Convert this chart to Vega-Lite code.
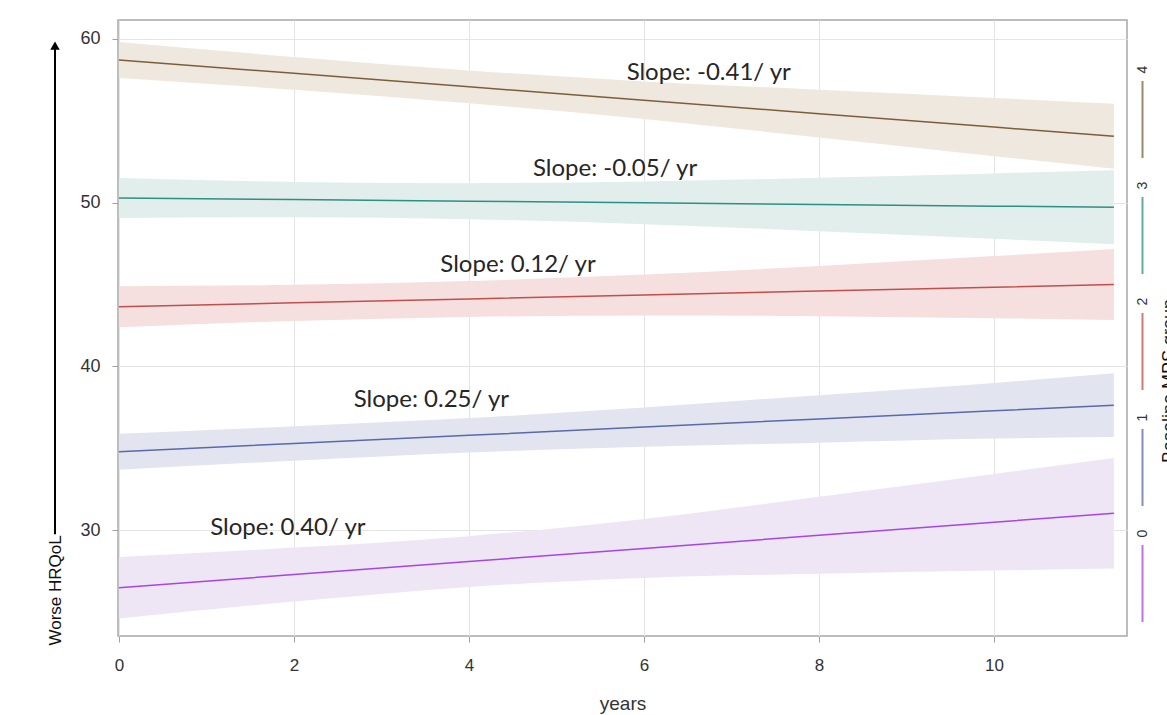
{
  "$schema": "https://vega.github.io/schema/vega-lite/v6.json",
  "width": 1009,
  "height": 616,
  "autosize": {"type": "none"},
  "padding": {"left": 118, "top": 20, "right": 40, "bottom": 79},
  "background": "white",
  "config": {
    "view": {"stroke": "#a8a8a8", "strokeWidth": 1.5},
    "axis": {
      "gridColor": "#e4e4e4",
      "gridWidth": 1,
      "domain": false,
      "tickColor": "#a0a0a0",
      "tickSize": 6,
      "labelFont": "Liberation Sans",
      "labelFontSize": 16,
      "labelColor": "#333333",
      "titleFont": "Liberation Sans",
      "titleFontSize": 18,
      "titleFontWeight": "normal",
      "titleColor": "#333333"
    }
  },
  "datasets": {
    "fits": [
      {"group": "0", "years": 0, "fit": 26.48, "lower": 24.60, "upper": 28.36},
      {"group": "0", "years": 2, "fit": 27.28, "lower": 25.63, "upper": 28.93},
      {"group": "0", "years": 4, "fit": 28.08, "lower": 26.53, "upper": 29.63},
      {"group": "0", "years": 6, "fit": 28.88, "lower": 27.08, "upper": 30.68},
      {"group": "0", "years": 8, "fit": 29.68, "lower": 27.33, "upper": 32.03},
      {"group": "0", "years": 10, "fit": 30.48, "lower": 27.53, "upper": 33.43},
      {"group": "0", "years": 11.37, "fit": 31.03, "lower": 27.65, "upper": 34.41},
      {"group": "1", "years": 0, "fit": 34.79, "lower": 33.69, "upper": 35.89},
      {"group": "1", "years": 2, "fit": 35.29, "lower": 34.24, "upper": 36.34},
      {"group": "1", "years": 4, "fit": 35.79, "lower": 34.74, "upper": 36.84},
      {"group": "1", "years": 6, "fit": 36.29, "lower": 35.09, "upper": 37.49},
      {"group": "1", "years": 8, "fit": 36.79, "lower": 35.34, "upper": 38.24},
      {"group": "1", "years": 10, "fit": 37.29, "lower": 35.59, "upper": 38.99},
      {"group": "1", "years": 11.37, "fit": 37.63, "lower": 35.68, "upper": 39.58},
      {"group": "2", "years": 0, "fit": 43.64, "lower": 42.39, "upper": 44.89},
      {"group": "2", "years": 2, "fit": 43.88, "lower": 42.78, "upper": 44.98},
      {"group": "2", "years": 4, "fit": 44.12, "lower": 43.02, "upper": 45.22},
      {"group": "2", "years": 6, "fit": 44.36, "lower": 43.11, "upper": 45.61},
      {"group": "2", "years": 8, "fit": 44.60, "lower": 43.07, "upper": 46.13},
      {"group": "2", "years": 10, "fit": 44.84, "lower": 42.94, "upper": 46.74},
      {"group": "2", "years": 11.37, "fit": 45.00, "lower": 42.83, "upper": 47.17},
      {"group": "3", "years": 0, "fit": 50.29, "lower": 49.07, "upper": 51.51},
      {"group": "3", "years": 2, "fit": 50.19, "lower": 49.11, "upper": 51.27},
      {"group": "3", "years": 4, "fit": 50.09, "lower": 48.99, "upper": 51.19},
      {"group": "3", "years": 6, "fit": 49.99, "lower": 48.69, "upper": 51.29},
      {"group": "3", "years": 8, "fit": 49.89, "lower": 48.26, "upper": 51.52},
      {"group": "3", "years": 10, "fit": 49.79, "lower": 47.79, "upper": 51.79},
      {"group": "3", "years": 11.37, "fit": 49.72, "lower": 47.46, "upper": 51.98},
      {"group": "4", "years": 0, "fit": 58.72, "lower": 57.62, "upper": 59.82},
      {"group": "4", "years": 2, "fit": 57.90, "lower": 56.90, "upper": 58.90},
      {"group": "4", "years": 4, "fit": 57.08, "lower": 56.08, "upper": 58.08},
      {"group": "4", "years": 6, "fit": 56.26, "lower": 55.11, "upper": 57.41},
      {"group": "4", "years": 8, "fit": 55.44, "lower": 53.98, "upper": 56.90},
      {"group": "4", "years": 10, "fit": 54.62, "lower": 52.84, "upper": 56.40},
      {"group": "4", "years": 11.37, "fit": 54.06, "lower": 52.08, "upper": 56.04}
    ],
    "notes": [
      {"years": 6.74, "value": 57.95, "label": "Slope: -0.41/ yr"},
      {"years": 5.67, "value": 52.06, "label": "Slope: -0.05/ yr"},
      {"years": 4.56, "value": 46.2, "label": "Slope: 0.12/ yr"},
      {"years": 3.57, "value": 37.96, "label": "Slope: 0.25/ yr"},
      {"years": 1.93, "value": 30.15, "label": "Slope: 0.40/ yr"}
    ],
    "arrow": [
      {"years": -0.731, "from": 29.75, "to": 59.6}
    ]
  },
  "layer": [
    {
      "data": {"name": "fits"},
      "mark": {"type": "area", "interpolate": "monotone", "opacity": 1},
      "encoding": {
        "x": {
          "field": "years", "type": "quantitative",
          "scale": {"domain": [-0.011, 11.52], "nice": false, "zero": false},
          "axis": {"title": "years", "values": [0, 2, 4, 6, 8, 10], "format": "d", "labelFlush": false, "labelFontSize": 17, "labelPadding": 15, "titleFontSize": 19, "titlePadding": 21}
        },
        "y": {
          "field": "lower", "type": "quantitative",
          "scale": {"domain": [23.53, 61.16], "nice": false, "zero": false},
          "axis": {
            "title": "Worse HRQoL",
            "values": [30, 40, 50, 60],
            "labelPadding": 12,
            "labelFontSize": 18,
            "labelFlush": false,
            "titleAngle": -90,
            "titleAlign": "left",
            "titleBaseline": "middle",
            "titleX": -63,
            "titleY": 625,
            "titleFontSize": 17,
            "titleColor": "#111111"
          }
        },
        "y2": {"field": "upper"},
        "fill": {
          "field": "group", "type": "nominal",
          "scale": {"range": ["#eee6f5", "#e2e5f0", "#f6dfdf", "#e2eeeb", "#efe8df"]},
          "legend": null
        }
      }
    },
    {
      "data": {"name": "fits"},
      "mark": {"type": "line", "strokeWidth": 1.5},
      "encoding": {
        "x": {"field": "years", "type": "quantitative"},
        "y": {"field": "fit", "type": "quantitative"},
        "color": {
          "field": "group", "type": "nominal",
          "scale": {"domain": ["4", "3", "2", "1", "0"], "range": ["#7d5e3c", "#2e8f84", "#c0504d", "#5a69aa", "#a645e8"]},
          "legend": {
            "title": "Baseline MPS group",
            "orient": "none",
            "legendX": 985,
            "legendY": 60,
            "padding": 0,
            "symbolType": "stroke",
            "symbolSize": 5929,
            "symbolStrokeWidth": 2,
            "symbolOpacity": 0.75,
            "labelOffset": 0,
            "labelFont": "Liberation Sans",
            "labelFontSize": 14,
            "labelColor": "#333333",
            "rowPadding": 19,
            "titleOrient": "right",
            "titleFont": "Liberation Sans",
            "titleFontSize": 18,
            "titleFontWeight": "normal",
            "titleColor": "#111111",
            "titlePadding": 0,
            "encode": {
              "symbols": {"update": {"angle": {"value": 90}}},
              "labels": {"update": {"angle": {"value": -90}, "align": {"value": "center"}, "dx": {"value": 50}, "dy": {"value": -39.5}}},
              "title": {"update": {"angle": {"value": -90}, "align": {"value": "center"}, "baseline": {"value": "top"}, "dx": {"value": -28}, "dy": {"value": 11}}}
            }
          }
        }
      }
    },
    {
      "data": {"name": "notes"},
      "mark": {"type": "text", "font": "Lato", "fontSize": 24, "color": "#262626", "align": "center", "baseline": "middle"},
      "encoding": {
        "x": {"field": "years", "type": "quantitative"},
        "y": {"field": "value", "type": "quantitative"},
        "text": {"field": "label"}
      }
    },
    {
      "data": {"name": "arrow"},
      "mark": {"type": "rule", "color": "#000000", "strokeWidth": 2},
      "encoding": {
        "x": {"field": "years", "type": "quantitative"},
        "y": {"field": "from", "type": "quantitative"},
        "y2": {"field": "to"}
      }
    },
    {
      "data": {"name": "arrow"},
      "mark": {"type": "point", "shape": "triangle-up", "filled": true, "color": "#000000", "opacity": 1, "size": 90},
      "encoding": {
        "x": {"field": "years", "type": "quantitative"},
        "y": {"field": "to", "type": "quantitative"}
      }
    }
  ]
}
